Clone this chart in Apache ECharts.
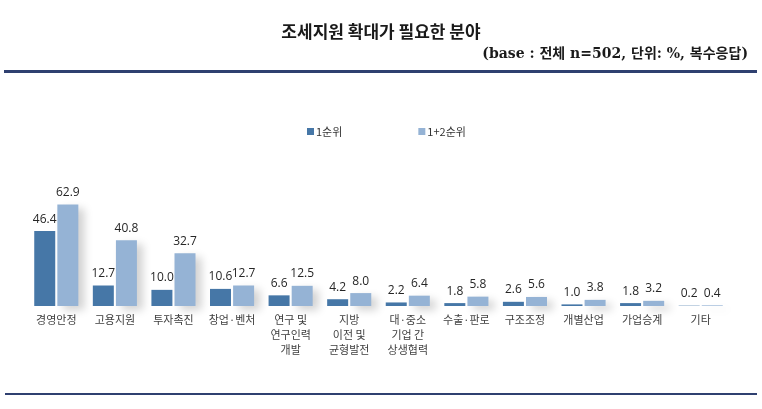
<!DOCTYPE html>
<html>
<head>
<meta charset="utf-8">
<script src="https://cdn.jsdelivr.net/npm/echarts@6/dist/echarts.min.js"></script>
<style>
  html, body { margin: 0; padding: 0; background: #fff; }
  #chart { width: 762px; height: 409px; }
</style>
</head>
<body>
<div id="chart"></div>
<script>
// 분야 (x축 항목)
var categories = ['경영안정', '고용지원', '투자촉진', '창업·벤처', '연구 및\n연구인력\n개발', '지방\n이전 및\n균형발전',
  '대·중소\n기업 간\n상생협력', '수출·판로', '구조조정', '개별산업', '가업승계', '기타'];
// 1순위
var rank1 = [46.4, 12.7, 10.0, 10.6, 6.6, 4.2, 2.2, 1.8, 2.6, 1.0, 1.8, 0.2];
// 1+2순위
var rank12 = [62.9, 40.8, 32.7, 12.7, 12.5, 8.0, 6.4, 5.8, 5.6, 3.8, 3.2, 0.4];
var seriesNames = ['1순위', '1+2순위'];

var chart = echarts.init(document.getElementById('chart'));

var valueLabel = {
  show: true,
  position: 'top',
  distance: 6,
  formatter: function (p) { return p.value.toFixed(1); },
  fontFamily: "'Open Sans', 'Noto Sans'",
  fontSize: 12,
  color: '#262626'
};

var option = {
  backgroundColor: '#fff',
  animation: false,
  title: [
    {
      text: '조세지원 확대가 필요한 분야',
      left: 'center',
      top: 18,
      textStyle: { fontFamily: 'Noto Sans CJK KR', fontSize: 17, fontWeight: 'bold', color: '#1a1a1a' }
    },
    {
      text: '(base : 전체 n=502, 단위: %, 복수응답)',
      right: 9,
      top: 42,
      textStyle: { fontFamily: "'DejaVu Serif', 'Noto Sans CJK KR'", fontSize: 14, fontWeight: 'bold', color: '#1a1a1a' }
    }
  ],
  graphic: [
    { type: 'rect', shape: { x: 4, y: 70, width: 753, height: 3 }, style: { fill: '#2f4070' } },
    { type: 'rect', shape: { x: 5, y: 393, width: 752, height: 2 }, style: { fill: '#2f4070' } }
  ],
  legend: {
    data: seriesNames,
    left: 302,
    top: 121,
    icon: 'rect',
    itemWidth: 7,
    itemHeight: 7,
    itemGap: 76,
    textStyle: { fontFamily: 'Noto Sans CJK KR', fontSize: 11, color: '#333', padding: [0, 0, 0, -3] }
  },
  grid: { left: 27, right: 32, top: 193, bottom: 103 },
  xAxis: {
    type: 'category',
    data: categories,
    axisLine: { show: false },
    axisTick: { show: false },
    axisLabel: {
      interval: 0,
      margin: 6,
      fontFamily: 'Noto Sans CJK KR',
      fontSize: 11,
      lineHeight: 15,
      color: '#404040'
    }
  },
  yAxis: {
    type: 'value',
    min: 0,
    max: 70,
    show: false
  },
  series: [
    {
      name: seriesNames[0],
      type: 'bar',
      data: rank1,
      barWidth: 21,
      barGap: '10%',
      itemStyle: { color: '#4677a7' },
      label: valueLabel
    },
    {
      name: seriesNames[1],
      type: 'bar',
      data: rank12,
      barWidth: 21,
      itemStyle: {
        color: '#95b3d5',
        shadowColor: 'rgba(0,0,0,0.18)',
        shadowBlur: 8,
        shadowOffsetX: 6,
        shadowOffsetY: 4
      },
      label: valueLabel
    }
  ]
};

chart.setOption(option);
</script>
</body>
</html>
